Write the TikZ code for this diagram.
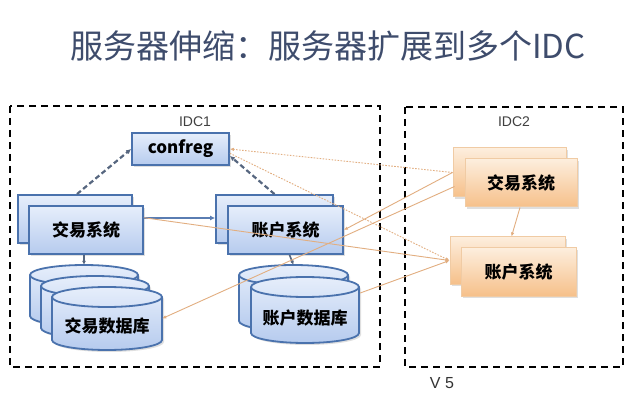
\documentclass[tikz,border=0pt]{standalone}
\usepackage{fontspec}
\setmainfont{Noto Sans CJK SC}
\newfontfamily\cjk{Noto Sans CJK SC}
\newfontfamily\lab{Liberation Sans}
\usetikzlibrary{arrows.meta,calc,shadows}
\definecolor{titlec}{HTML}{3E4C6C}
\definecolor{bborder}{HTML}{4A72AD}
\definecolor{btop}{HTML}{E6EEFB}
\definecolor{bbot}{HTML}{B6CBEE}
\definecolor{otop}{HTML}{FDEEDD}
\definecolor{obot}{HTML}{F6C08A}
\definecolor{oborder}{HTML}{F0CBA4}
\definecolor{tan}{HTML}{E2AE80}
\definecolor{dashc}{HTML}{56667F}
\definecolor{linkb}{HTML}{5A7DB2}
\tikzset{
  bluebox/.style={draw=bborder, line width=1.8pt, top color=btop, bottom color=bbot,
    rectangle, inner sep=0pt, font=\cjk\bfseries\fontsize{17}{17}\selectfont,
    drop shadow={opacity=0.25, shadow xshift=2pt, shadow yshift=-2pt}},
  orangebox/.style={draw=oborder, line width=1pt, top color=otop, bottom color=obot,
    rectangle, inner sep=0pt, font=\cjk\bfseries\fontsize{17}{17}\selectfont,
    drop shadow={opacity=0.25, shadow xshift=2pt, shadow yshift=-2pt}},
  dbstyle/.style={draw=bborder, line width=1.8pt, top color=btop, bottom color=bbot},
  ghost/.style={rectangle, inner sep=0pt, draw=none},
  dbtext/.style={inner sep=0pt, font=\cjk\bfseries\fontsize{17}{17}\selectfont},
  idcframe/.style={draw=black, line width=1.8pt, dash pattern=on 7pt off 5pt},
  tanline/.style={draw=tan, line width=0.9pt},
  tandot/.style={draw=tan, line width=0.9pt, dash pattern=on 1.6pt off 1.4pt},
  tanarrow/.style={-{Latex[length=4pt,width=3.5pt]}},
  regline/.style={draw=dashc, line width=2.2pt, dash pattern=on 5pt off 3pt, -{Latex[length=5pt,width=5pt]}},
  sysdb/.style={draw=dashc, line width=1.6pt, -{Latex[length=4pt,width=4pt]}},
  lbl/.style={font=\lab\fontsize{14}{14}\selectfont, text=black!75},
}
% cylinder: #1 x0, #2 x1, #3 top, #4 bottom (px, y down)
\newcommand{\mycyl}[4]{%
  \pgfmathsetmacro{\rxv}{(#2-#1)/2}%
  \filldraw[dbstyle, drop shadow={opacity=0.25, shadow xshift=2pt, shadow yshift=-2pt}]
    (#1,#3+10) -- (#1,#4-10) arc[start angle=180, end angle=360, x radius=\rxv pt, y radius=10pt]
    -- (#2,#3+10) arc[start angle=0, end angle=180, x radius=\rxv pt, y radius=10pt] -- cycle;
  \draw[draw=bborder, line width=1.8pt] (#1,#3+10) arc[start angle=180, end angle=360, x radius=\rxv pt, y radius=10pt];
}
\begin{document}
\begin{tikzpicture}[x=1pt, y=-1pt]
\useasboundingbox (0,0) rectangle (640,414);
\fill[white] (0,0) rectangle (640,414);

% title
\node[text=titlec, font=\cjk\fontsize{33}{33}\selectfont, anchor=center] (title) at (328,46) {服务器伸缩：服务器扩展到多个IDC};

% IDC frames
\draw[idcframe] (10,106) rectangle (380,367);
\draw[idcframe] (405,107) rectangle (623,367);
\node[lbl] (idc1) at (195,122) {IDC1};
\node[lbl] (idc2) at (514,122) {IDC2};
\node[lbl, font=\lab\fontsize{16}{16}\selectfont, text=black!80] (v5) at (442,383) {V 5};

% confreg
\node[bluebox, minimum width=97pt, minimum height=32pt] (confreg) at (180.5,149) {confreg};

% IDC1 systems
\node[bluebox, minimum width=114pt, minimum height=48pt] (tx1back) at (75,219) {};
\node[bluebox, minimum width=114pt, minimum height=48pt] (tx1) at (86,230) {交易系统};
\node[bluebox, minimum width=117pt, minimum height=48pt] (ac1back) at (274.5,219) {};
\node[bluebox, minimum width=115pt, minimum height=48pt] (ac1) at (285.5,230) {账户系统};

% databases
\mycyl{30}{138}{265}{326}
\mycyl{41}{149}{276}{338}
\mycyl{52}{162}{287}{350}
\node[ghost, minimum width=108pt, minimum height=61pt] (db1c) at (84,295.5) {};
\node[ghost, minimum width=110pt, minimum height=63pt] (db1) at (107,318.5) {};
\node[dbtext] (db1t) at (107,326) {交易数据库};

\mycyl{239}{348}{265}{331}
\mycyl{251}{359}{277}{343}
\node[ghost, minimum width=109pt, minimum height=66pt] (db2c) at (293.5,298) {};
\node[ghost, minimum width=108pt, minimum height=66pt] (db2) at (305,310) {};
\node[dbtext] (db2t) at (305,318) {账户数据库};

% IDC2 systems
\node[orangebox, minimum width=113pt, minimum height=49pt] (tx2back) at (509.5,172.5) {};
\node[orangebox, minimum width=112pt, minimum height=48pt] (tx2) at (521,183) {交易系统};
\node[orangebox, minimum width=115pt, minimum height=47pt] (ac2back) at (507.5,260.5) {};
\node[orangebox, minimum width=115pt, minimum height=48pt] (ac2) at (518.5,272) {账户系统};

% registry (dashed)
\draw[regline] (tx1back.north) ++(2,0) -- (confreg.west);
\draw[regline] (ac1back.north) -- (confreg.-8);

% IDC1 internal
\draw[draw=linkb, line width=1.6pt, -{Latex[length=5pt,width=5pt]}] (tx1.east |- 0,218) -- (ac1back.west |- 0,218);
\draw[sysdb] (tx1.south -| db1c.north) -- (db1c.north);
\draw[sysdb] ($(ac1.south)+(4,0)$) -- (db2c.north);

% cross-IDC tan lines
\draw[tandot, tanarrow] (tx2back.west) -- (confreg.east);
\draw[tandot, tanarrow] (confreg.-5) -- (ac2back.west);
\draw[tanline, tanarrow] (tx1.12) -- (ac2back.west);
\draw[tanline, tanarrow] (tx2back.west) -- (ac1.east);
\draw[tanline, tanarrow] ($(tx2back.west)+(2,14)$) -- (db1.east);
\draw[tanline, tanarrow] ($(db2.east)+(1,-17)$) -- (ac2back.west);

% IDC2 internal
\draw[tanline, tanarrow] ($(tx2.south)+(-1,0)$) -- ($(ac2back.north)+(4,0)$);
\end{tikzpicture}
\end{document}
